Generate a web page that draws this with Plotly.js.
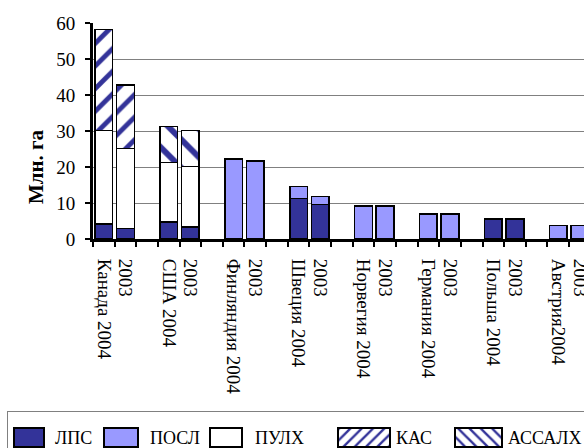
<!DOCTYPE html>
<html>
<head>
<meta charset="utf-8">
<script src="https://cdn.plot.ly/plotly-3.0.1.min.js"></script>
<style>html,body{margin:0;padding:0;background:#fff;}#chart{width:584px;height:448px;}</style>
</head>
<body>
<div id="chart"></div>
<script>
// Category slots (each country: 2004, 2003, spacer)
var slots = ["Канада 2004","Канада 2003","s1","США 2004","США 2003","s2",
  "Финляндия 2004","Финляндия 2003","s3","Швеция 2004","Швеция 2003","s4",
  "Норвегия 2004","Норвегия 2003","s5","Германия 2004","Германия 2003","s6",
  "Польша 2004","Польша 2003","s7","Австрия 2004","Австрия 2003"];
var tickLabels = ["Канада 2004","2003","","США 2004","2003","",
  "Финляндия 2004","2003","","Швеция 2004","2003","",
  "Норвегия 2004","2003","","Германия 2004","2003","",
  "Польша 2004","2003","","Австрия2004","2003"];
// Series (млн. га)
var lps    = [4.2,2.9,null, 4.7,3.4,null, null,null,null, 11.3,9.6,null, null,null,null, null,null,null, 5.6,5.6,null, null,null];
var posl   = [null,null,null, null,null,null, 22.2,21.6,null, 3.3,2.2,null, 9.1,9.1,null, 6.9,6.9,null, null,null,null, 3.7,3.7];
var pulh   = [25.9,22.2,null, 16.5,16.7,null, null,null,null, null,null,null, null,null,null, null,null,null, null,null,null, null,null];
var kas    = [28.1,17.6,null, null,null,null, null,null,null, null,null,null, null,null,null, null,null,null, null,null,null, null,null];
var assalh = [null,null,null, 10.0,10.0,null, null,null,null, null,null,null, null,null,null, null,null,null, null,null,null, null,null];
var seriesNames = ["ЛПС","ПОСЛ","ПУЛХ","КАС","АССАЛХ"];
var yTitle = "Млн. га";

var FONT = "Liberation Serif, Times New Roman, serif";
var line = {color:"#000", width:1.6};
function bar(name, y, color, pattern, psize){
  var m = {color: color, line: line};
  if (pattern) m.pattern = {shape: pattern, fgcolor:"#333399", fgopacity:1, bgcolor:"#ffffff", size:psize, solidity:0.3, fillmode:"replace"};
  return {type:"bar", name:name, x:slots, y:y, marker:m, hoverinfo:"name+y"};
}
var data = [
  bar(seriesNames[0], lps, "#333399"),
  bar(seriesNames[1], posl, "#9999ff"),
  bar(seriesNames[2], pulh, "#ffffff"),
  bar(seriesNames[3], kas, "#ffffff", "/", 16),
  bar(seriesNames[4], assalh, "#ffffff", "\\", 20)
];
var layout = {
  width:584, height:448,
  margin:{l:93, r:0, t:23, b:209},
  paper_bgcolor:"#fff", plot_bgcolor:"#fff",
  barmode:"stack", bargap:0.18,
  font:{family:FONT, color:"#000", size:18},
  xaxis:{type:"category", categoryorder:"array", categoryarray:slots,
    tickvals:slots, ticktext:tickLabels, range:[-0.5,22.19],
    tickson:"boundaries", ticks:"outside", ticklen:5, tickwidth:2, tickcolor:"#000",
    showline:true, linecolor:"#000", linewidth:3, showgrid:false,
    tickangle:90, ticklabelstandoff:13, tickfont:{family:FONT, size:19}},
  yaxis:{range:[0,60], dtick:10, ticks:"outside", ticklen:5, tickwidth:2, tickcolor:"#000",
    showline:true, linecolor:"#000", linewidth:3, showgrid:true, gridcolor:"#808080", gridwidth:1,
    zeroline:false, ticklabelstandoff:6, tickfont:{family:FONT, size:19}},
  annotations:[{text:"<b>"+yTitle+"</b>", textangle:-90, xref:"paper", yref:"paper",
    x:-0.116, y:0.333, xanchor:"center", yanchor:"middle", showarrow:false,
    font:{family:FONT, size:21, color:"#000"}}],
  showlegend:true,
  legend:{orientation:"h", xref:"container", yref:"container", x:0.012, y:0.083,
    xanchor:"left", yanchor:"top", traceorder:"normal",
    bordercolor:"#808080", borderwidth:1, bgcolor:"#fff",
    font:{family:FONT, size:18}}
};
// legend item placement (page pixels): swatch left, swatch width, text left
var legSwLeft = [14,104,210,338,455];
var legSwW = [30,34,32,52,47];
var legTxtLeft = [55,150,255,396,508];
var gd = document.getElementById("chart");
Plotly.newPlot(gd, data, layout, {displayModeBar:false, staticPlot:true}).then(function(){
  var base = gd.getBoundingClientRect();
  var leg = gd.querySelector(".legend");
  if (!leg) return;
  var sb = leg.querySelector(".scrollbox");
  if (sb) sb.removeAttribute("clip-path");
  leg.removeAttribute("clip-path");
  var bg = leg.querySelector("rect.bg");
  if (bg) { bg.setAttribute("width", 700); bg.setAttribute("height", 120); }
  var items = leg.querySelectorAll(".traces");
  items.forEach(function(it, i){
    var p = it.querySelector(".legendpoints path");
    if (p) {
      var w = legSwW[i], h = 19;
      p.setAttribute("d", "M"+(w/2)+","+(h/2)+"H"+(-w/2)+"V"+(-h/2)+"H"+(w/2)+"Z");
      p.style.strokeWidth = "2px";
      p.style.stroke = "#000";
      var r = p.getBoundingClientRect();
      var dx = legSwLeft[i] - (r.left - base.left), dy = 428 - (r.top - base.top);
      var old = p.getAttribute("transform") || "";
      p.setAttribute("transform", "translate("+dx+","+dy+") "+old);
    }
    var t = it.querySelector(".legendtext");
    if (t) {
      var rt = t.getBoundingClientRect();
      var tdx = legTxtLeft[i] - (rt.left - base.left);
      var tdy = 438 - ((rt.top + rt.bottom)/2 - base.top);
      var oldt = t.getAttribute("transform") || "";
      t.setAttribute("transform", "translate("+tdx+","+tdy+") "+oldt);
    }
  });
});
</script>
</body>
</html>
